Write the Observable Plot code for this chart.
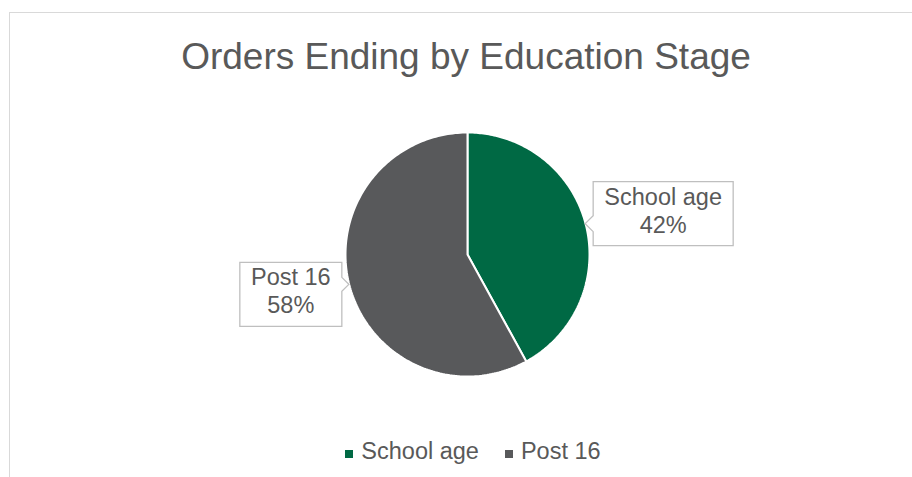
<!DOCTYPE html>
<html><head><meta charset="utf-8">
<script src="https://cdn.jsdelivr.net/npm/d3@7"></script>
<script src="https://cdn.jsdelivr.net/npm/@observablehq/plot@0.6"></script>
<style>
body{margin:0;background:#fff;font-family:"Liberation Sans",Arial,sans-serif;}
#wrap{position:relative;width:912px;height:477px;overflow:hidden;background:#fff;}
#frame{position:absolute;left:9px;top:12px;width:1000px;height:600px;border-left:1px solid #d9d9d9;border-top:1px solid #d9d9d9;}
#title{position:absolute;left:0;width:932px;top:38px;text-align:center;font-size:37px;line-height:37px;color:#595959;white-space:nowrap;}
#chart{position:absolute;left:0;top:104px;}
#legend{position:absolute;left:0;width:946px;top:438px;display:flex;justify-content:center;align-items:center;font-size:23.5px;color:#595959;}
#legend .item{display:flex;align-items:center;margin:0 13px;}
#legend .sw{width:8px;height:8px;margin-right:8px;margin-top:4px;}
</style>
</head><body>
<div id="wrap">
  <div id="frame"></div>
  <div id="title"></div>
  <div id="chart"></div>
  <div id="legend"></div>
</div>
<script>
const title = "Orders Ending by Education Stage";
const categories = ["School age", "Post 16"];
const values = [42, 58];
const labels = ["42%", "58%"];
const colors = ["#006944", "#58595B"];

document.getElementById("title").textContent = title;

const data = categories.map((c, i) => ({name: c, value: values[i], label: labels[i], color: colors[i]}));
const arcs = d3.pie().sort(null).value(d => d.value)(data);

// slice outlines in unit-radius data coordinates
const slicePts = arcs.map(a => {
  const pts = [{x: 0, y: 0, name: a.data.name}];
  const n = 180;
  for (let k = 0; k <= n; k++) {
    const t = a.startAngle + (a.endAngle - a.startAngle) * k / n;
    pts.push({x: Math.sin(t), y: Math.cos(t), name: a.data.name});
  }
  return pts;
});

const R = 122, cx = 467, cy = 150;
const fontSpec = "23.5px 'Liberation Sans', Arial, sans-serif";
const ctx = document.createElement("canvas").getContext("2d");
ctx.font = fontSpec;

function callouts(index, scales) {
  const g = d3.create("svg:g");
  arcs.forEach(a => {
    const m = (a.startAngle + a.endAngle) / 2;
    const ux = Math.sin(m), uy = Math.cos(m);
    const tx = scales.x(ux), ty = scales.y(uy);
    const tw = Math.max(ctx.measureText(a.data.name).width, ctx.measureText(a.data.label).width);
    const w = Math.round(tw + 22), h = 64;
    const right = ux > 0;
    const gap = right ? 8 : 7;
    const bx0 = right ? tx + gap : tx - gap - w;
    const bx1 = bx0 + w;
    const bcy = ty - uy * 40;
    const by0 = bcy - h / 2, by1 = bcy + h / 2;
    let d;
    if (right) {
      d = `M${bx0},${by0}H${bx1}V${by1}H${bx0}V${ty + 8}L${tx},${ty}L${bx0},${ty - 8}Z`;
    } else {
      d = `M${bx0},${by0}H${bx1}V${ty - 7}L${tx},${ty}L${bx1},${ty + 7}V${by1}H${bx0}Z`;
    }
    g.append("path").attr("d", d).attr("fill", "#fff").attr("stroke", "#bfbfbf").attr("stroke-width", 1.3);
    const mx = (bx0 + bx1) / 2;
    g.append("text").attr("x", mx).attr("y", by0 + 23).attr("text-anchor", "middle")
      .attr("font-size", 23.5).attr("fill", "#595959").attr("font-family", "'Liberation Sans', Arial, sans-serif")
      .text(a.data.name);
    g.append("text").attr("x", mx).attr("y", by0 + 51).attr("text-anchor", "middle")
      .attr("font-size", 23.5).attr("fill", "#595959").attr("font-family", "'Liberation Sans', Arial, sans-serif")
      .text(a.data.label);
  });
  return g.node();
}

const chart = Plot.plot({
  width: 912,
  height: 300,
  style: {background: "transparent", overflow: "visible"},
  x: {type: "linear", domain: [-1, 1], range: [cx - R, cx + R], axis: null},
  y: {type: "linear", domain: [-1, 1], range: [cy + R, cy - R], axis: null},
  marks: [
    ...slicePts.map((pts, i) => Plot.line(pts, {
      x: "x", y: "y", fill: colors[i], stroke: "#ffffff", strokeWidth: 2,
      strokeLinejoin: "miter", curve: "linear-closed"
    })),
    callouts
  ]
});
document.getElementById("chart").appendChild(chart);

const legend = document.getElementById("legend");
data.forEach(d => {
  const it = document.createElement("div");
  it.className = "item";
  const sw = document.createElement("span");
  sw.className = "sw";
  sw.style.background = d.color;
  const tx = document.createElement("span");
  tx.textContent = d.name;
  it.appendChild(sw); it.appendChild(tx);
  legend.appendChild(it);
});
</script>
</body></html>
